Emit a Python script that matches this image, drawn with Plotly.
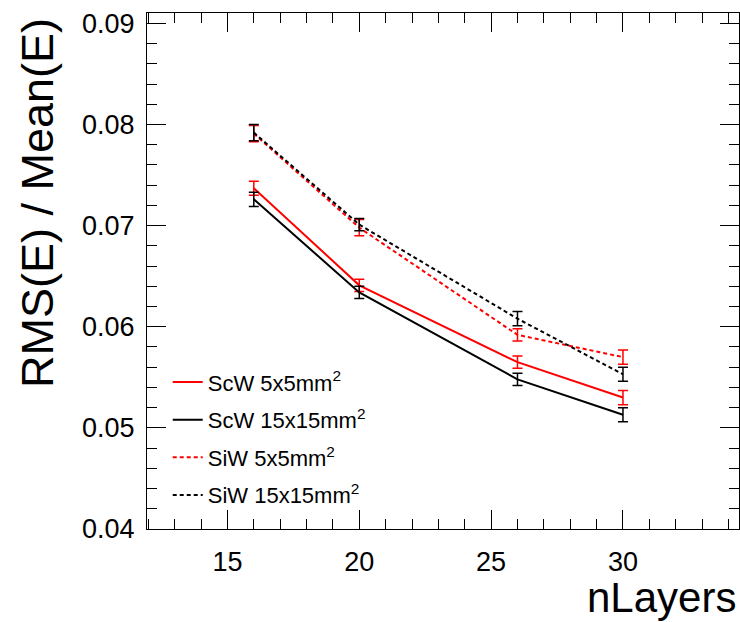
import plotly.graph_objects as go

n_layers = [16, 20, 26, 30]

scw_5x5 = [0.0737, 0.0641, 0.0565, 0.0530]
scw_5x5_err = [0.0007, 0.0006, 0.0006, 0.0007]

scw_15x15 = [0.0726, 0.0634, 0.0548, 0.0513]
scw_15x15_err = [0.0007, 0.0006, 0.0006, 0.0007]

siw_5x5 = [0.0791, 0.0698, 0.0592, 0.0570]
siw_5x5_err = [0.0008, 0.0008, 0.0006, 0.0007]

siw_15x15 = [0.0792, 0.0701, 0.0608, 0.0553]
siw_15x15_err = [0.0008, 0.0006, 0.0007, 0.0007]

series = [
    ("ScW 5x5mm<sup>2</sup>", scw_5x5, scw_5x5_err, "#ff0000", "solid"),
    ("ScW 15x15mm<sup>2</sup>", scw_15x15, scw_15x15_err, "#000000", "solid"),
    ("SiW 5x5mm<sup>2</sup>", siw_5x5, siw_5x5_err, "#ff0000", "4px,3px"),
    ("SiW 15x15mm<sup>2</sup>", siw_15x15, siw_15x15_err, "#000000", "4px,3px"),
]

FONT = "Liberation Sans, Arial, sans-serif"

fig = go.Figure()
for i, (name, vals, errs, color, dash) in enumerate(series):
    fig.add_trace(go.Scatter(
        x=n_layers, y=vals, name=name, mode="lines",
        legendgroup=f"g{i}",
        line=dict(color=color, width=2, dash=dash),
        error_y=dict(type="data", array=errs, visible=True, color=color,
                     thickness=1.5, width=5),
    ))

axis_common = dict(
    showline=True, linecolor="black", linewidth=1, mirror="ticks",
    ticks="inside", tickcolor="black", showgrid=False, zeroline=False,
    tickfont=dict(family=FONT, size=27, color="black"),
)

fig.update_xaxes(
    range=[11.95, 34.4], tick0=0, dtick=5, ticklen=19, tickwidth=1,
    ticklabelstandoff=9,
    minor=dict(dtick=1, ticks="inside", ticklen=10, tickcolor="black", showgrid=False),
    **axis_common,
)
fig.update_yaxes(
    range=[0.04, 0.09103], tick0=0, dtick=0.01, tickformat=".2f", ticklen=19, tickwidth=1,
    ticklabelstandoff=6,
    minor=dict(dtick=0.002, ticks="inside", ticklen=10, tickcolor="black", showgrid=False),
    **axis_common,
)

fig.add_annotation(
    text="nLayers", xref="paper", yref="paper", x=0.997, y=-0.1795,
    xanchor="right", yanchor="bottom", showarrow=False, borderpad=0,
    font=dict(family=FONT, size=42, color="black"),
)
fig.add_annotation(
    text="RMS(E) / Mean(E)", xref="paper", yref="paper", x=-0.185, y=0.995,
    xanchor="center", yanchor="top", textangle=-90, showarrow=False,
    font=dict(family=FONT, size=45, color="black"),
)

fig.update_layout(
    width=740, height=622,
    margin=dict(l=147, r=1, t=13, b=93),
    paper_bgcolor="white", plot_bgcolor="white",
    showlegend=True,
    legend=dict(
        x=0.035, y=0.325, xanchor="left", yanchor="top",
        bgcolor="rgba(0,0,0,0)", borderwidth=0,
        traceorder="grouped", tracegroupgap=6,
        font=dict(family=FONT, size=22, color="black"),
    ),
)

fig.write_html("out.html")
